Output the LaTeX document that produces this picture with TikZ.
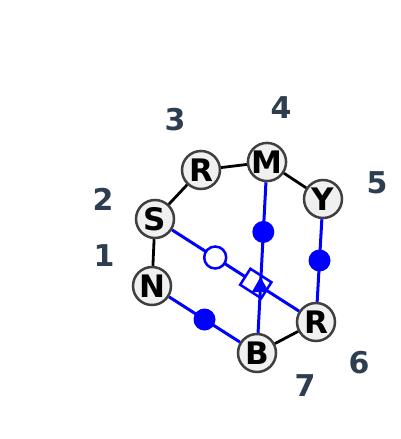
\documentclass[tikz,border=0pt]{standalone}
\usepackage{fontspec}
\setmainfont{DejaVu Sans}
\usetikzlibrary{shapes.geometric, calc}
\definecolor{slate}{RGB}{44,62,80}
\definecolor{nodefill}{RGB}{240,240,240}
\definecolor{nodeline}{RGB}{64,64,64}

\begin{document}
\begin{tikzpicture}[x=1pt,y=-1pt]
\tikzset{vertex/.style={circle, draw=nodeline, fill=nodefill, line width=2.5pt, minimum size=38pt, inner sep=0pt, font=\fontsize{31}{31}\selectfont\bfseries}}
\tikzset{numlabel/.style={text=slate, font=\fontsize{30}{30}\selectfont\bfseries}}
\tikzset{plainedge/.style={draw=black, line width=2.8pt}}
\tikzset{blueedge/.style={draw=blue, line width=3pt}}
\tikzset{opendot/.style={circle, draw=blue, fill=white, line width=2.5pt, minimum size=22pt, inner sep=0pt}}
\tikzset{fulldot/.style={circle, fill=blue, minimum size=22pt, inner sep=0pt}}
\tikzset{sqmark/.style={rectangle, draw=blue, fill=white, line width=2.5pt, minimum width=25pt, minimum height=19pt, inner sep=0pt}}
\tikzset{trimark/.style={regular polygon, regular polygon sides=3, fill=blue, minimum size=20pt, inner sep=0pt}}
\useasboundingbox (0,0) rectangle (400,439);
% vertices
\node[vertex] (S) at (155,219) {S};
\node[vertex] (R1) at (201,170) {R};
\node[vertex] (M) at (267,162) {M};
\node[vertex] (Y) at (323,199) {Y};
\node[vertex] (N) at (152,286) {N};
\node[vertex] (B) at (257,353) {B};
\node[vertex] (R2) at (316,322) {R};
% numbers
\node[numlabel] (l1) at (104,256) {1};
\node[numlabel] (l2) at (103,199) {2};
\node[numlabel] (l3) at (175,120) {3};
\node[numlabel] (l4) at (281,108) {4};
\node[numlabel] (l5) at (377,183) {5};
\node[numlabel] (l6) at (359,363) {6};
\node[numlabel] (l7) at (305,386) {7};
% ring edges
\path[plainedge] (S) -- (R1);
\path[plainedge] (R1) -- (M);
\path[plainedge] (M) -- (Y);
\path[plainedge] (S) -- (N);
\path[plainedge] (B) -- (R2);
% marked edges
\path[blueedge] (S) -- node[pos=0.34, opendot] (o1) {} node[pos=0.66, sloped, sqmark] (q1) {} (R2);
\path[blueedge] (M) -- node[pos=0.33, fulldot] (d1) {} (B);
\node[trimark] (t1) at ($(M)!0.655!(B)$) {};
\path[blueedge] (Y) -- node[pos=0.5, fulldot] (d2) {} (R2);
\path[blueedge] (N) -- node[pos=0.5, fulldot] (d3) {} (B);
\end{tikzpicture}
\end{document}
